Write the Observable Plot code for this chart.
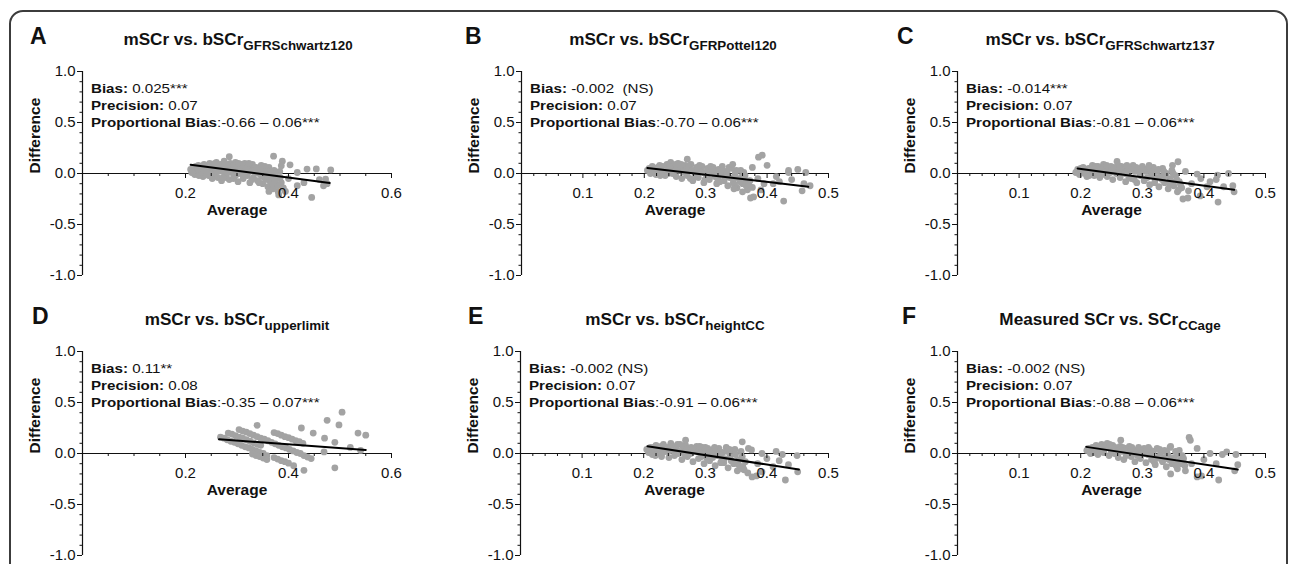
<!DOCTYPE html>
<html><head><meta charset="utf-8">
<script src="https://cdn.jsdelivr.net/npm/d3@7"></script>
<script src="https://cdn.jsdelivr.net/npm/@observablehq/plot@0.6"></script>
<style>
html,body{margin:0;padding:0;width:1292px;height:564px;overflow:hidden;background:#fff;font-family:"Liberation Sans",Arial,sans-serif;color:#111;}
#frame{position:absolute;left:9px;top:10px;width:1279px;height:620px;border:2px solid #3c3c3c;border-radius:14px;box-sizing:border-box;}
.plotwrap{position:absolute;}
.letter{position:absolute;font-weight:bold;font-size:23px;line-height:22px;}
.title{position:absolute;font-weight:bold;font-size:16px;line-height:16px;white-space:nowrap;transform:translateX(-50%) scaleX(1.07);}
.title .sub{font-size:12.5px;position:relative;top:5px;}
.ann{position:absolute;font-size:13.5px;line-height:17px;white-space:pre;transform:scaleX(1.12);transform-origin:0 0;}
</style>
</head><body>
<div id="frame"></div>
<div id="root"></div>
<script>
// ---------- data ----------
const letters = ["A","B","C","D","E","F"];
const titleMain = ["mSCr vs. bSCr","mSCr vs. bSCr","mSCr vs. bSCr","mSCr vs. bSCr","mSCr vs. bSCr","Measured SCr vs. SCr"];
const titleSub = ["GFRSchwartz120","GFRPottel120","GFRSchwartz137","upperlimit","heightCC","CCage"];
const biasVals = ["0.025***","-0.002  (NS)","-0.014***","0.11**","-0.002 (NS)","-0.002 (NS)"];
const precisionVals = ["0.07","0.07","0.07","0.08","0.07","0.07"];
const propBiasVals = [":-0.66 \u2013 0.06***",":-0.70 \u2013 0.06***",":-0.81 \u2013 0.06***",":-0.35 \u2013 0.07***",":-0.91 \u2013 0.06***",":-0.88 \u2013 0.06***"];
const xMaxVals = [0.6,0.5,0.5,0.6,0.5,0.5];

const xMajorWide = [0.2,0.4,0.6];
const xMinorWide = [0.05,0.1,0.15,0.25,0.3,0.35,0.45,0.5,0.55];
const xMajorNarrow = [0.1,0.2,0.3,0.4,0.5];
const xMinorNarrow = [0.02,0.04,0.06,0.08,0.12,0.14,0.16,0.18,0.22,0.24,0.26,0.28,0.32,0.34,0.36,0.38,0.42,0.44,0.46,0.48];
const yMajor = [-1,-0.5,0,0.5,1];
const yMinor = [-0.9,-0.8,-0.7,-0.6,-0.4,-0.3,-0.2,-0.1,0.1,0.2,0.3,0.4,0.6,0.7,0.8,0.9];

const pointsA = [
[0.210,0.04],[0.212,0.01],[0.215,0.06],[0.218,-0.01],[0.222,0.03],[0.225,0.08],[0.228,0.00],[0.231,0.05],[0.234,-0.03],[0.236,0.09],[0.239,0.02],[0.242,0.06],[0.245,-0.02],[0.247,0.10],[0.250,0.03],[0.252,-0.05],[0.255,0.07],[0.258,0.00],[0.260,0.11],[0.263,-0.04],[0.265,0.05],[0.268,0.09],[0.270,-0.07],[0.272,0.02],[0.275,0.12],[0.277,-0.02],[0.280,0.07],[0.282,0.04],[0.285,-0.06],[0.287,0.10],[0.290,0.01],[0.292,0.06],[0.295,-0.03],[0.297,0.11],[0.300,0.03],[0.302,-0.08],[0.305,0.08],[0.307,0.00],[0.310,0.05],[0.312,-0.05],[0.315,0.10],[0.317,0.02],[0.320,-0.02],[0.322,0.07],[0.325,-0.09],[0.327,0.04],[0.330,0.09],[0.332,-0.04],[0.335,0.01],[0.337,0.06],[0.340,-0.07],[0.342,0.03],[0.345,-0.01],[0.347,0.08],[0.350,-0.10],[0.352,0.04],[0.355,-0.05],[0.357,0.00],[0.360,-0.13],[0.362,0.06],[0.365,-0.08],[0.367,-0.02],[0.370,-0.15],[0.372,0.03],[0.375,-0.11],[0.378,-0.05],[0.380,-0.18],[0.383,0.02],[0.386,-0.09],[0.390,-0.14],
[0.214,0.03],[0.220,0.07],[0.226,-0.02],[0.232,0.01],[0.238,0.07],[0.244,0.04],[0.249,0.08],[0.254,0.01],[0.259,0.04],[0.264,0.08],[0.269,0.03],[0.274,0.06],[0.279,-0.04],[0.284,0.09],[0.289,0.04],[0.294,0.08],[0.299,-0.01],[0.304,0.05],[0.309,0.09],[0.314,0.01],[0.319,0.05],[0.324,0.02],[0.329,-0.06],[0.334,0.05],[0.339,0.01],[0.344,0.05],[0.349,-0.03],[0.354,0.07],[0.359,-0.06],[0.364,0.02],[0.369,-0.10],[0.374,0.00],[0.379,-0.12],[0.384,-0.04],
[0.224,0.05],[0.241,0.00],[0.257,0.10],[0.262,0.02],[0.273,-0.04],[0.283,0.01],[0.293,-0.05],[0.303,0.10],[0.313,-0.02],[0.323,0.10],[0.333,0.03],[0.343,-0.09],[0.353,0.02],[0.363,-0.04],[0.373,-0.07],
[0.285,0.165],[0.371,0.17],[0.388,0.12],[0.386,0.075],[0.403,0.085],[0.417,0.01],[0.436,0.043],[0.454,0.045],[0.482,0.035],[0.472,-0.055],[0.468,-0.12],[0.445,-0.235],[0.417,-0.12],[0.430,-0.09],[0.394,-0.176],[0.381,-0.21],[0.362,-0.176],[0.400,-0.05],[0.460,-0.06],[0.475,-0.10]
];
const pointsB = [
[0.205,0.03],[0.208,0.05],[0.210,0.00],[0.213,0.07],[0.216,0.02],[0.219,-0.01],[0.222,0.06],[0.225,0.08],[0.228,0.01],[0.231,0.04],[0.234,-0.02],[0.237,0.09],[0.240,0.05],[0.243,0.11],[0.246,0.00],[0.249,0.07],[0.252,-0.03],[0.255,0.10],[0.258,0.03],[0.261,-0.05],[0.264,0.06],[0.267,0.08],[0.270,-0.02],[0.273,0.04],[0.276,0.09],[0.279,-0.07],[0.282,0.01],[0.285,0.06],[0.288,-0.04],[0.291,0.03],[0.294,0.07],[0.297,-0.09],[0.300,0.00],[0.303,0.05],[0.306,-0.06],[0.309,0.02],[0.312,0.06],[0.315,-0.03],[0.318,-0.10],[0.321,0.04],[0.324,-0.01],[0.327,0.07],[0.330,-0.07],[0.333,0.02],[0.336,-0.12],[0.339,-0.04],[0.342,0.05],[0.345,-0.09],[0.348,0.00],[0.351,-0.14],[0.354,-0.05],[0.357,0.03],[0.360,-0.10],[0.364,-0.02],[0.368,-0.16],[0.372,-0.07],
[0.212,0.03],[0.218,0.05],[0.224,0.02],[0.230,0.07],[0.236,0.03],[0.242,0.07],[0.248,0.02],[0.254,0.05],[0.260,0.09],[0.266,0.01],[0.272,0.06],[0.278,0.03],[0.284,-0.02],[0.290,0.08],[0.296,0.01],[0.302,-0.03],[0.308,0.07],[0.314,0.01],[0.320,-0.06],[0.326,0.03],[0.332,-0.03],[0.338,0.06],[0.344,-0.05],[0.350,0.03],[0.356,-0.08],[0.362,0.01],[0.366,-0.12],
[0.226,-0.02],[0.239,0.00],[0.251,0.09],[0.263,0.02],[0.275,-0.05],[0.287,0.04],[0.299,-0.06],[0.311,0.04],[0.323,-0.08],[0.335,0.00],[0.347,-0.11],[0.359,-0.03],[0.370,-0.11],
[0.270,0.14],[0.344,0.09],[0.392,0.18],[0.386,0.16],[0.376,0.06],[0.400,0.08],[0.435,0.01],[0.450,0.04],[0.463,0.01],[0.427,-0.27],[0.378,-0.23],[0.373,-0.24],[0.390,-0.16],[0.376,-0.137],[0.460,-0.10],[0.470,-0.12],[0.457,-0.17],[0.420,-0.08],[0.410,-0.10],[0.362,-0.07],[0.346,-0.15],[0.360,-0.18],[0.435,0.03],[0.385,-0.05],[0.395,-0.10],[0.440,-0.06],[0.415,-0.03]
];
const pointsC = [
[0.192,0.01],[0.195,0.04],[0.198,-0.01],[0.201,0.03],[0.204,0.06],[0.207,0.00],[0.210,-0.03],[0.213,0.05],[0.216,0.02],[0.219,0.08],[0.222,-0.02],[0.225,0.04],[0.228,0.07],[0.231,-0.04],[0.234,0.01],[0.237,0.09],[0.240,0.05],[0.243,-0.03],[0.246,0.02],[0.249,0.07],[0.252,-0.06],[0.255,0.04],[0.258,0.00],[0.261,0.08],[0.264,-0.04],[0.267,0.03],[0.270,0.06],[0.273,-0.08],[0.276,0.01],[0.279,0.05],[0.282,-0.05],[0.285,0.08],[0.288,0.02],[0.291,-0.09],[0.294,0.04],[0.297,-0.02],[0.300,0.07],[0.303,-0.07],[0.306,0.02],[0.309,0.05],[0.312,-0.11],[0.315,-0.01],[0.318,0.06],[0.321,-0.06],[0.324,0.02],[0.327,-0.13],[0.330,-0.03],[0.333,0.05],[0.336,-0.09],[0.339,0.00],[0.342,-0.15],[0.345,-0.05],[0.348,0.03],[0.351,-0.12],[0.354,-0.02],[0.357,-0.18],[0.360,-0.08],[0.364,-0.14],
[0.200,0.05],[0.206,0.02],[0.212,0.01],[0.218,0.04],[0.224,0.07],[0.230,0.02],[0.236,0.05],[0.242,0.08],[0.248,0.01],[0.254,0.06],[0.260,0.02],[0.266,0.07],[0.272,0.00],[0.278,-0.03],[0.284,0.04],[0.290,0.06],[0.296,0.01],[0.302,0.03],[0.308,-0.04],[0.314,0.03],[0.320,-0.09],[0.326,0.04],[0.332,-0.06],[0.338,-0.02],[0.344,-0.10],[0.350,0.00],[0.356,-0.06],[0.362,-0.11],
[0.214,-0.02],[0.227,0.01],[0.239,-0.01],[0.251,0.03],[0.263,0.05],[0.275,0.08],[0.287,-0.06],[0.299,0.04],[0.311,0.08],[0.323,-0.04],[0.335,0.02],[0.347,-0.08],[0.359,-0.16],
[0.259,0.118],[0.358,0.115],[0.349,0.08],[0.370,0.02],[0.389,-0.006],[0.422,-0.016],[0.440,0.00],[0.449,-0.18],[0.423,-0.28],[0.394,-0.22],[0.374,-0.24],[0.366,-0.25],[0.405,-0.13],[0.432,-0.13],[0.410,-0.08],[0.447,-0.12],[0.380,-0.10],[0.395,-0.05],[0.420,-0.06],[0.375,-0.17]
];
const pointsD = [
[0.268,0.16],[0.275,0.15],[0.281,0.135],[0.288,0.12],[0.295,0.11],[0.302,0.095],[0.309,0.08],[0.316,0.065],[0.323,0.055],[0.330,0.04],[0.337,0.025],[0.344,0.01],[0.351,0.00],[0.358,-0.02],[0.372,-0.04],[0.379,-0.055],[0.386,-0.07],[0.393,-0.08],[0.400,-0.095],
[0.283,0.20],[0.290,0.19],[0.297,0.175],[0.304,0.16],[0.311,0.15],[0.318,0.135],[0.325,0.12],[0.332,0.105],[0.339,0.09],[0.346,0.08],
[0.304,0.235],[0.311,0.22],[0.318,0.21],[0.325,0.195],[0.332,0.18],[0.339,0.165],[0.346,0.15],[0.353,0.14],[0.360,0.125],[0.367,0.11],[0.374,0.095],[0.381,0.08],[0.388,0.065],[0.395,0.055],[0.402,0.04],[0.409,0.025],[0.416,0.01],[0.423,0.00],[0.430,-0.02],[0.437,-0.035],[0.444,-0.05],
[0.372,0.205],[0.379,0.195],[0.386,0.18],[0.393,0.165],[0.400,0.155],[0.407,0.14],[0.414,0.125],[0.421,0.115],
[0.330,-0.005],[0.337,-0.02],[0.344,-0.03],[0.351,-0.045],[0.358,-0.06],
[0.339,0.276],[0.425,0.25],[0.448,0.20],[0.475,0.325],[0.504,0.405],[0.498,0.28],[0.470,0.15],[0.490,0.11],[0.535,0.20],[0.550,0.18],[0.520,0.06],[0.540,0.03],[0.469,0.015],[0.490,-0.14],[0.430,-0.165],[0.410,-0.12],[0.428,0.10]
];
const pointsE = [
[0.205,0.04],[0.208,0.01],[0.211,0.06],[0.214,-0.01],[0.217,0.03],[0.220,0.08],[0.223,0.00],[0.226,0.05],[0.229,-0.03],[0.232,0.09],[0.235,0.02],[0.238,0.06],[0.241,-0.04],[0.244,0.10],[0.247,0.03],[0.250,-0.02],[0.253,0.07],[0.256,0.00],[0.259,0.09],[0.262,-0.06],[0.265,0.04],[0.268,0.08],[0.271,-0.03],[0.274,0.02],[0.277,0.06],[0.280,-0.08],[0.283,0.03],[0.286,0.07],[0.289,-0.05],[0.292,0.01],[0.295,0.06],[0.298,-0.10],[0.301,0.02],[0.304,0.05],[0.307,-0.07],[0.310,0.00],[0.313,0.04],[0.316,-0.12],[0.319,-0.02],[0.322,0.05],[0.325,-0.09],[0.328,0.01],[0.331,-0.05],[0.334,0.06],[0.337,-0.14],[0.340,-0.03],[0.343,0.03],[0.346,-0.10],[0.349,-0.01],[0.352,-0.17],[0.355,-0.06],[0.358,0.02],[0.361,-0.13],[0.365,-0.08],[0.369,-0.19],
[0.210,0.03],[0.216,0.06],[0.222,0.04],[0.228,0.07],[0.234,0.05],[0.240,0.02],[0.246,0.07],[0.252,0.04],[0.258,0.02],[0.264,0.07],[0.270,0.04],[0.276,0.00],[0.282,0.05],[0.288,0.02],[0.294,-0.03],[0.300,0.06],[0.306,0.01],[0.312,-0.04],[0.318,0.03],[0.324,-0.01],[0.330,-0.09],[0.336,0.02],[0.342,-0.07],[0.348,0.04],[0.354,-0.11],[0.360,-0.03],
[0.219,-0.02],[0.231,0.01],[0.243,0.05],[0.255,0.09],[0.267,-0.01],[0.279,0.04],[0.291,0.07],[0.303,-0.05],[0.315,0.06],[0.327,-0.06],[0.339,0.04],[0.351,-0.08],[0.363,-0.16],
[0.268,0.13],[0.360,0.114],[0.375,0.035],[0.392,0.00],[0.425,-0.01],[0.449,-0.02],[0.430,-0.26],[0.410,-0.13],[0.435,-0.11],[0.450,-0.18],[0.376,-0.23],[0.383,-0.22],[0.392,-0.18],[0.360,-0.15],[0.400,-0.05],[0.385,-0.10],[0.420,-0.07],[0.370,0.05],[0.415,0.02]
];
const pointsF = [
[0.210,0.03],[0.213,0.05],[0.216,0.00],[0.219,0.06],[0.222,0.02],[0.225,0.08],[0.228,-0.01],[0.231,0.04],[0.234,0.09],[0.237,0.01],[0.240,0.06],[0.243,0.10],[0.246,-0.02],[0.249,0.04],[0.252,0.08],[0.255,0.00],[0.258,0.05],[0.261,-0.04],[0.264,0.07],[0.267,0.02],[0.270,-0.06],[0.273,0.05],[0.276,0.01],[0.279,0.07],[0.282,-0.03],[0.285,0.04],[0.288,-0.08],[0.291,0.02],[0.294,0.06],[0.297,-0.05],[0.300,0.01],[0.303,0.05],[0.306,-0.09],[0.309,-0.01],[0.312,0.04],[0.315,-0.06],[0.318,0.02],[0.321,-0.11],[0.324,0.05],[0.327,-0.03],[0.330,0.01],[0.333,-0.08],[0.336,0.03],[0.339,-0.13],[0.342,-0.02],[0.345,0.06],[0.348,-0.10],[0.351,-0.04],[0.354,0.02],[0.357,-0.15],[0.361,-0.07],[0.365,-0.02],[0.369,-0.12],
[0.214,0.02],[0.220,0.04],[0.226,0.05],[0.232,0.07],[0.238,0.04],[0.244,0.07],[0.250,0.02],[0.256,0.06],[0.262,0.03],[0.268,0.06],[0.274,-0.02],[0.280,0.03],[0.286,0.01],[0.292,-0.02],[0.298,0.03],[0.304,0.00],[0.310,0.06],[0.316,-0.02],[0.322,-0.05],[0.328,0.04],[0.334,-0.04],[0.340,0.01],[0.346,-0.06],[0.352,-0.09],[0.358,-0.01],[0.364,-0.10],
[0.223,0.01],[0.235,0.06],[0.247,0.09],[0.259,0.00],[0.271,0.03],[0.283,0.06],[0.295,0.00],[0.307,0.03],[0.319,-0.08],[0.331,-0.06],[0.343,-0.06],[0.355,-0.12],[0.367,-0.05],
[0.265,0.13],[0.376,0.157],[0.378,0.13],[0.346,0.07],[0.389,0.05],[0.437,0.016],[0.452,-0.01],[0.424,-0.26],[0.389,-0.23],[0.396,-0.22],[0.346,-0.20],[0.450,-0.17],[0.455,-0.11],[0.420,-0.10],[0.430,-0.01],[0.400,-0.06],[0.380,-0.10],[0.410,0.00],[0.360,0.03],[0.370,-0.17]
];
const lineA = [[0.210,0.085],[0.480,-0.093]];
const lineB = [[0.205,0.055],[0.467,-0.130]];
const lineC = [[0.195,0.050],[0.449,-0.160]];
const lineD = [[0.265,0.140],[0.550,0.035]];
const lineE = [[0.206,0.072],[0.452,-0.157]];
const lineF = [[0.209,0.065],[0.455,-0.157]];

const allPoints = [pointsA,pointsB,pointsC,pointsD,pointsE,pointsF];
const allLines = [lineA,lineB,lineC,lineD,lineE,lineF];

// ---------- layout (page pixels) ----------
const layout = [
  {ax:82,  top:71,  len:309, titleX:238,  letterX:30},
  {ax:521, top:71,  len:307, titleX:673,  letterX:465},
  {ax:957, top:71,  len:308, titleX:1100, letterX:897},
  {ax:82,  top:351, len:309, titleX:237,  letterX:32},
  {ax:520, top:351, len:308, titleX:675,  letterX:468},
  {ax:957, top:351, len:308, titleX:1110, letterX:902}
];

const root = document.getElementById("root");
const ML = 70, MR = 24, MT = 10, MB = 10, H = 204;

for (let i = 0; i < 6; i++) {
  const L = layout[i];
  const wide = xMaxVals[i] > 0.55;
  const pts = allPoints[i].map(([x, y]) => ({x, y}));
  const ln = allLines[i].map(([x, y]) => ({x, y}));
  const plot = Plot.plot({
    width: ML + L.len + MR,
    height: MT + H + MB,
    marginLeft: ML, marginRight: MR, marginTop: MT, marginBottom: MB,
    style: {fontFamily: '"Liberation Sans", Arial, sans-serif', fontSize: "15px", overflow: "visible", background: "transparent", color: "#111"},
    x: {domain: [0, xMaxVals[i]]},
    y: {domain: [-1, 1]},
    marks: [
      Plot.ruleY([0], {stroke: "#111", strokeWidth: 1.2}),
      Plot.ruleX([0], {stroke: "#111", strokeWidth: 1.2}),
      Plot.dot(pts, {x: "x", y: "y", r: 3.4, fill: "#a3a3a3"}),
      Plot.line(ln, {x: "x", y: "y", stroke: "#000", strokeWidth: 2}),
      Plot.axisY({ticks: yMajor, tickSize: 5, tickPadding: 2, tickFormat: d => d.toFixed(1), label: null}),
      Plot.axisY({ticks: yMinor, tickSize: 2.5, tickFormat: () => "", label: null}),
      Plot.axisX({anchor: "bottom", ticks: wide ? xMajorWide : xMajorNarrow, tickSize: 5, tickPadding: 9, dy: -H / 2, tickFormat: d => d.toFixed(1), label: null}),
      Plot.axisX({anchor: "bottom", ticks: wide ? xMinorWide : xMinorNarrow, tickSize: 3, dy: -H / 2, tickFormat: () => "", label: null}),
      Plot.text(["Difference"], {frameAnchor: "left", rotate: -90, dx: -47, fontWeight: "bold", fontSize: 15.5}),
      Plot.text(["Average"], {frameAnchor: "middle", dy: 37, fontWeight: "bold", fontSize: 15.5})
    ]
  });
  const wrap = document.createElement("div");
  wrap.className = "plotwrap";
  wrap.style.left = (L.ax - ML) + "px";
  wrap.style.top = (L.top - MT) + "px";
  wrap.appendChild(plot);
  root.appendChild(wrap);

  const rowOff = L.top - 71;
  const let_ = document.createElement("div");
  let_.className = "letter";
  let_.style.left = L.letterX + "px";
  let_.style.top = (24.5 + rowOff) + "px";
  let_.textContent = letters[i];
  root.appendChild(let_);

  const t = document.createElement("div");
  t.className = "title";
  t.style.left = L.titleX + "px";
  t.style.top = (31.5 + rowOff) + "px";
  t.appendChild(document.createTextNode(titleMain[i]));
  const s = document.createElement("span");
  s.className = "sub";
  s.textContent = titleSub[i];
  t.appendChild(s);
  root.appendChild(t);

  const a = document.createElement("div");
  a.className = "ann";
  a.style.left = (L.ax + 9) + "px";
  a.style.top = (79.6 + rowOff) + "px";
  a.innerHTML = `<b>Bias:</b> ${biasVals[i]}\n<b>Precision:</b> ${precisionVals[i]}\n<b>Proportional Bias</b>${propBiasVals[i]}`;
  root.appendChild(a);
}
</script>
</body></html>
